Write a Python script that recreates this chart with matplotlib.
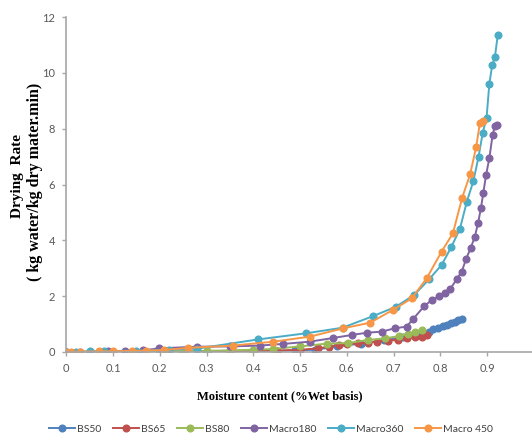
import matplotlib
matplotlib.use('Agg')
import matplotlib.pyplot as plt

# moisture content (wet basis) and drying rate
bs50_x = [0.0, 0.05, 0.1, 0.15, 0.2, 0.25, 0.3, 0.35, 0.4, 0.45, 0.49, 0.532, 0.58, 0.63,
          0.68, 0.72, 0.75, 0.775, 0.785, 0.796, 0.805, 0.814, 0.822, 0.832, 0.839, 0.846]
bs50_y = [0.0, 0.0, 0.0, 0.01, 0.01, 0.01, 0.02, 0.02, 0.03, 0.04, 0.06, 0.08, 0.2, 0.3,
          0.42, 0.52, 0.62, 0.73, 0.81, 0.87, 0.93, 0.97, 1.03, 1.09, 1.15, 1.17]

bs65_x = [0.0, 0.05, 0.1, 0.15, 0.2, 0.25, 0.3, 0.35, 0.4, 0.45, 0.5, 0.539, 0.561, 0.584,
          0.601, 0.625, 0.646, 0.664, 0.689, 0.71, 0.728, 0.746, 0.76, 0.771]
bs65_y = [0.0, 0.0, 0.0, 0.0, 0.01, 0.01, 0.01, 0.02, 0.03, 0.05, 0.08, 0.13, 0.19, 0.25,
          0.29, 0.31, 0.33, 0.37, 0.41, 0.43, 0.49, 0.53, 0.55, 0.61]

bs80_x = [0.0, 0.05, 0.1, 0.15, 0.2, 0.25, 0.3, 0.35, 0.4, 0.443, 0.5, 0.557, 0.602, 0.645,
          0.682, 0.712, 0.732, 0.746, 0.76]
bs80_y = [0.0, 0.0, 0.01, 0.01, 0.02, 0.03, 0.04, 0.06, 0.08, 0.11, 0.2, 0.3, 0.32, 0.43,
          0.49, 0.57, 0.65, 0.73, 0.79]

m180_x = [0.0, 0.03, 0.05, 0.09, 0.126, 0.165, 0.199, 0.279, 0.35, 0.414, 0.464, 0.521, 0.57,
          0.611, 0.643, 0.675, 0.703, 0.728, 0.742, 0.766, 0.782, 0.798, 0.81, 0.821, 0.835,
          0.846, 0.855, 0.865, 0.874, 0.881, 0.887, 0.892, 0.898, 0.905, 0.912, 0.917, 0.922]
m180_y = [0.0, 0.0, 0.01, 0.02, 0.03, 0.06, 0.13, 0.19, 0.2, 0.23, 0.29, 0.37, 0.5,
          0.61, 0.69, 0.73, 0.85, 0.91, 1.18, 1.65, 1.86, 2.0, 2.1, 2.25, 2.6,
          2.88, 3.32, 3.72, 4.13, 4.63, 5.15, 5.69, 6.34, 6.94, 7.78, 8.1, 8.14]

m360_x = [0.0, 0.02, 0.05, 0.08, 0.15, 0.22, 0.28, 0.41, 0.513, 0.591, 0.657, 0.705, 0.744,
          0.776, 0.803, 0.824, 0.842, 0.857, 0.871, 0.882, 0.891, 0.899, 0.905, 0.911, 0.917,
          0.923]
m360_y = [0.0, 0.01, 0.02, 0.03, 0.05, 0.08, 0.12, 0.45, 0.67, 0.87, 1.29, 1.62, 2.04,
          2.6, 3.12, 3.77, 4.41, 5.39, 6.13, 7.0, 7.86, 8.38, 9.6, 10.27, 10.58, 11.35]

m450_x = [0.0, 0.01, 0.03, 0.07, 0.1, 0.14, 0.17, 0.21, 0.261, 0.357, 0.443, 0.521, 0.593,
          0.65, 0.698, 0.739, 0.771, 0.803, 0.827, 0.847, 0.864, 0.877, 0.885, 0.892]
m450_y = [0.0, 0.0, 0.01, 0.02, 0.03, 0.04, 0.05, 0.07, 0.15, 0.23, 0.37, 0.55, 0.85,
          1.05, 1.5, 1.92, 2.64, 3.6, 4.25, 5.53, 6.37, 7.36, 8.22, 8.26]

labels = ['BS50', 'BS65', 'BS80', 'Macro180', 'Macro360', 'Macro 450']
colors = ['#4F81BD', '#C0504D', '#9BBB59', '#8064A2', '#4BACC6', '#F79646']
xs = [bs50_x, bs65_x, bs80_x, m180_x, m360_x, m450_x]
ys = [bs50_y, bs65_y, bs80_y, m180_y, m360_y, m450_y]

xticks = [0, 0.1, 0.2, 0.3, 0.4, 0.5, 0.6, 0.7, 0.8, 0.9, 1.0]
xtick_labels = ['0', '0.1', '0.2', '0.3', '0.4', '0.5', '0.6', '0.7', '0.8', '0.9', '1']
yticks = [0, 2, 4, 6, 8, 10, 12]

W, H = 532, 434
fig = plt.figure(figsize=(W / 100, H / 100), dpi=100)
ax = fig.add_axes([66.25 / W, (H - 352) / H, 467.5 / W, (352 - 17) / H])

for x, y, c, lab in zip(xs, ys, colors, labels):
    ax.plot(x, y, '-o', color=c, lw=1.4, ms=4.8, label=lab)

ax.set_xlim(0, 1.0)
ax.set_ylim(0, 12)
ax.set_xticks(xticks)
ax.set_xticklabels(xtick_labels)
ax.set_yticks(yticks)
for s in ['top', 'right']:
    ax.spines[s].set_visible(False)
for s in ['left', 'bottom']:
    ax.spines[s].set_color('#A6A6A6')
    ax.spines[s].set_linewidth(1.2)
ax.tick_params(colors='#A6A6A6', labelcolor='#595959', length=3, width=1,
               labelsize=8, pad=5)
for t in ax.get_xticklabels() + ax.get_yticklabels():
    t.set_fontfamily('Lato')

fig.text(280 / W, 1 - 396 / H, 'Moisture content (%Wet basis)', ha='center', va='center',
         family='Liberation Serif', weight='bold', fontsize=9)
fig.text(18 / W, 1 - 176 / H, 'Drying  Rate', ha='center', va='center', rotation=90,
         family='Liberation Serif', weight='bold', fontsize=11)
fig.text(35 / W, 1 - 182 / H, '( kg water/kg dry mater.min)', ha='center', va='center',
         rotation=90, family='Liberation Serif', weight='bold', fontsize=11.5)

leg = fig.legend(loc='center', bbox_to_anchor=(271 / W, 1 - 429 / H), ncol=6, frameon=False,
                 prop={'family': 'Lato', 'size': 7.5}, handlelength=2.5, handletextpad=0.2,
                 columnspacing=1.1, borderpad=0)
for t in leg.get_texts():
    t.set_color('#404040')

fig.savefig('out.png', dpi=100)
